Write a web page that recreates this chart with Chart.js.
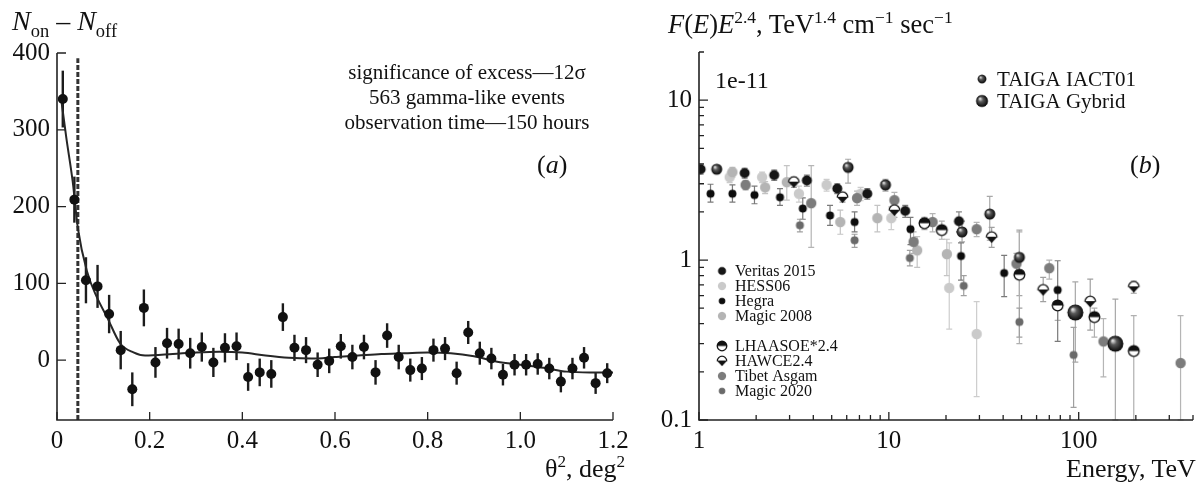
<!DOCTYPE html>
<html>
<head>
<meta charset="utf-8">
<script src="https://cdn.jsdelivr.net/npm/chart.js"></script>
<style>
  html, body { margin: 0; padding: 0; background: #fff; }
  body { width: 1202px; height: 485px; position: relative; overflow: hidden; font-family: "Liberation Serif", serif; color: #111; }
  .box { position: absolute; top: 0; height: 485px; }
  #boxA { left: 0; width: 640px; }
  #boxB { left: 640px; width: 562px; }
  .lbl { position: absolute; white-space: nowrap; line-height: 1; }
  .lbl sub, .lbl sup { font-size: 0.66em; line-height: 0; }
  .note { text-align: center; transform: translateX(-50%); line-height: 25px; font-size: 21px; }
</style>
</head>
<body>
<div class="box" id="boxA"><canvas id="chartA" width="640" height="485"></canvas></div>
<div class="box" id="boxB"><canvas id="chartB" width="562" height="485"></canvas></div>

<div class="lbl" style="left:12px;top:7px;font-size:28px"><i>N</i><sub>on</sub> – <i>N</i><sub>off</sub></div>
<div class="lbl note" style="left:467px;top:60px">significance of excess—12σ<br>563 gamma-like events<br>observation time—150 hours</div>
<div class="lbl" style="left:537px;top:152px;font-size:26px">(<i>a</i>)</div>
<div class="lbl" style="left:545px;top:456px;font-size:26px">θ<sup>2</sup>, deg<sup>2</sup></div>

<div class="lbl" style="left:668px;top:11px;font-size:26.5px"><i>F</i>(<i>E</i>)<i>E</i><sup>2.4</sup>, TeV<sup>1.4</sup> cm<sup>−1</sup> sec<sup>−1</sup></div>
<div class="lbl" style="left:715px;top:68px;font-size:24px">1e-11</div>
<div class="lbl" style="left:1130px;top:152px;font-size:26px">(<i>b</i>)</div>
<div class="lbl" style="left:1066px;top:456px;font-size:26px">Energy, TeV</div>

<script>
// ---- panel (a): theta^2 distribution ----
const thetaSq = [0.0125, 0.0375, 0.0625, 0.0875, 0.1125, 0.1375, 0.1625, 0.1875, 0.2125, 0.2375,
  0.2625, 0.2875, 0.3125, 0.3375, 0.3625, 0.3875, 0.4125, 0.4375, 0.4625, 0.4875,
  0.5125, 0.5375, 0.5625, 0.5875, 0.6125, 0.6375, 0.6625, 0.6875, 0.7125, 0.7375,
  0.7625, 0.7875, 0.8125, 0.8375, 0.8625, 0.8875, 0.9125, 0.9375, 0.9625, 0.9875,
  1.0125, 1.0375, 1.0625, 1.0875, 1.1125, 1.1375, 1.1625, 1.1875];
const excess = [340, 209, 104, 96, 60, 13, -38, 68, -3, 22,
  21, 9, 17, -3, 16, 18, -22, -16, -18, 56,
  16, 13, -6, -1, 18, 4, 17, -16, 32, 4,
  -13, -11, 13, 15, -17, 36, 9, 2, -19, -6,
  -6, -5, -11, -28, -11, 3, -30, -17];
const excessErr = [37, 30, 30, 28, 25, 25, 22, 24, 20, 20,
  20, 20, 19, 19, 19, 18, 18, 18, 18, 18,
  17, 17, 16, 16, 16, 16, 16, 16, 16, 16,
  15, 15, 15, 15, 15, 15, 15, 14, 14, 14,
  14, 14, 14, 14, 14, 14, 14, 13];
const fitX = [0.009, 0.02, 0.034, 0.045, 0.065, 0.086, 0.108, 0.136, 0.165, 0.19, 0.25, 0.3, 0.35, 0.4,
  0.45, 0.5, 0.55, 0.6, 0.65, 0.7, 0.75, 0.8, 0.85, 0.9, 0.95, 1.0, 1.05, 1.1, 1.15, 1.2];
const fitY = [340, 290, 232, 172, 115, 82, 56, 22, 10, 6, 8, 10, 11, 10,
  6, 3, 2, 4, 6, 8, 9, 10, 9, 5, -2, -6, -10, -15, -16, -16];
const cutTheta2 = 0.045;
const cutTop = 393;
const aXTicks = [0, 0.2, 0.4, 0.6, 0.8, 1.0, 1.2];
const aYTicks = [0, 100, 200, 300, 400];
const aYMin = -78, aYMax = 400;

// ---- panel (b): spectrum, F(E)E^2.4 in 1e-11 ----
const seriesNames = ['Veritas 2015', 'HESS06', 'Hegra', 'Magic 2008', 'LHAASOE*2.4', 'HAWCE2.4', 'Tibet Asgam', 'Magic 2020'];
const taigaNames = ['TAIGA IACT01', 'TAIGA Gybrid'];

const veritasE  = [1.02, 1.74, 2.49, 3.7, 5.35, 7.7, 12.2, 23.4];
const veritasF  = [3.7, 3.5, 3.4, 3.15, 2.8, 2.6, 2.03, 1.75];
const veritasLo = [3.45, 3.25, 3.15, 2.9, 2.6, 2.4, 1.85, 1.5];
const veritasHi = [3.95, 3.75, 3.65, 3.4, 3.0, 2.8, 2.2, 2.0];

const hessE  = [1.45, 2.15, 3.36, 4.7, 7.1, 10.3, 20.8, 29];
const hessF  = [3.3, 3.3, 2.6, 2.95, 2.6, 1.83, 0.67, 0.345];
const hessLo = [3.05, 3.05, 2.3, 2.7, 2.35, 1.55, 0.37, 0.14];
const hessHi = [3.55, 3.55, 2.9, 3.2, 2.85, 2.15, 1.28, 0.55];

const hegraE  = [1.15, 1.5, 1.96, 2.67, 3.52, 4.9, 6.6, 13.0, 24.0, 40.5, 77.5];
const hegraF  = [2.6, 2.6, 2.55, 2.47, 2.1, 1.9, 1.73, 1.56, 1.06, 0.83, 0.65];
const hegraLo = [2.3, 2.3, 2.25, 2.2, 1.8, 1.65, 1.5, 1.25, 0.75, 0.59, 0.31];
const hegraHi = [2.98, 2.95, 2.9, 2.8, 2.45, 2.2, 2.0, 1.85, 1.28, 1.07, 0.99];

const magic08E  = [1.5, 2.23, 2.9, 5.55, 8.7, 14.1, 20.2];
const magic08F  = [3.55, 2.85, 3.07, 1.73, 1.83, 1.15, 1.09];
const magic08Lo = [3.3, 2.6, 2.37, 1.45, 1.5, 0.9, 0.8];
const magic08Hi = [3.8, 3.1, 3.9, 2.05, 2.2, 1.4, 1.35];

const lhaasoE  = [15.4, 19, 48.7, 77.5, 121, 195];
const lhaasoF  = [1.7, 1.54, 0.81, 0.52, 0.44, 0.27];
const lhaasoLo = [1.55, 1.35, 0.3, 0.42, 0.33, 0.1];
const lhaasoHi = [1.85, 1.75, 1.5, 0.62, 0.5, 0.45];

const hawcE  = [3.16, 5.7, 10.7, 34.8, 65, 115, 195];
const hawcF  = [3.07, 2.47, 2.05, 1.39, 0.65, 0.55, 0.68];
const hawcLo = [2.85, 2.3, 1.85, 1.2, 0.55, 0.365, 0.62];
const hawcHi = [3.3, 2.65, 2.25, 1.6, 0.78, 0.76, 0.74];

const tibetE  = [1.76, 3.9, 6.8, 10.7, 13.5, 17, 29, 47, 70, 135, 344];
const tibetF  = [2.95, 2.27, 2.44, 2.37, 1.3, 1.73, 1.56, 0.95, 0.89, 0.31, 0.227];
const tibetLo = [2.75, 1.2, 2.2, 2.1, 1.1, 1.5, 1.4, 0.8, 0.76, 0.186, 0.1];
const tibetHi = [3.15, 3.9, 2.7, 2.65, 1.5, 1.95, 1.72, 1.1, 1.0, 0.43, 0.45];

const magic20E  = [3.4, 6.6, 12.9, 24.8, 48.7, 94];
const magic20F  = [1.65, 1.33, 1.03, 0.69, 0.41, 0.255];
const magic20Lo = [1.5, 1.2, 0.92, 0.6, 0.33, 0.12];
const magic20Hi = [1.8, 1.45, 1.15, 0.8, 0.5, 0.38];

const iactE  = [1.24, 6.1, 9.6, 24.3, 34, 48.7];
const iactF  = [3.7, 3.8, 2.95, 1.5, 1.94, 1.04];
const iactLo = [3.5, 3.03, 2.7, 1.3, 1.33, 0.6];
const iactHi = [3.9, 4.27, 3.2, 1.75, 2.5, 1.54];

const gybridE  = [96, 156];
const gybridF  = [0.47, 0.30];
const gybridLo = [0.23, 0.1];
const gybridHi = [0.73, 0.57];

const bXTicks = [1, 10, 100];
const bYTicks = [0.1, 1, 10];
const bXMinor = [2, 3, 4, 5, 6, 7, 8, 9, 20, 30, 40, 50, 60, 70, 80, 90, 200, 300, 400];
const bYMinor = [0.2, 0.3, 0.4, 0.5, 0.6, 0.7, 0.8, 0.9, 2, 3, 4, 5, 6, 7, 8, 9, 20];

// ---------- markers ----------
function makeMarker(r, paint) {
  const s = Math.ceil(r * 2 + 3);
  const c = document.createElement('canvas');
  c.width = s; c.height = s;
  paint(c.getContext('2d'), s / 2, s / 2, r);
  return c;
}
const disc = color => (g, cx, cy, r) => {
  g.fillStyle = color;
  g.beginPath(); g.arc(cx, cy, r, 0, Math.PI * 2); g.fill();
};
function sphere(g, cx, cy, r) {
  const grad = g.createRadialGradient(cx - r * 0.35, cy - r * 0.4, r * 0.08, cx, cy, r);
  grad.addColorStop(0, '#e0e0e0');
  grad.addColorStop(0.35, '#5a5a5a');
  grad.addColorStop(1, '#060606');
  g.fillStyle = grad;
  g.beginPath(); g.arc(cx, cy, r, 0, Math.PI * 2); g.fill();
}
function halfTop(g, cx, cy, r) {
  g.fillStyle = '#fff';
  g.beginPath(); g.arc(cx, cy, r, 0, Math.PI * 2); g.fill();
  g.fillStyle = '#111';
  g.beginPath(); g.arc(cx, cy, r, Math.PI, Math.PI * 2); g.closePath(); g.fill();
  g.strokeStyle = '#111'; g.lineWidth = 1.3;
  g.beginPath(); g.arc(cx, cy, r - 0.5, 0, Math.PI * 2); g.stroke();
}
function hawcMark(g, cx, cy, r) {
  g.fillStyle = '#fff';
  g.beginPath(); g.arc(cx, cy, r, Math.PI, Math.PI * 2); g.closePath(); g.fill();
  g.strokeStyle = '#111'; g.lineWidth = 1.3;
  g.beginPath(); g.arc(cx, cy, r - 0.5, Math.PI, Math.PI * 2); g.stroke();
  g.fillStyle = '#111';
  g.beginPath(); g.moveTo(cx - r, cy - 0.5); g.lineTo(cx + r, cy - 0.5); g.lineTo(cx, cy + r); g.closePath(); g.fill();
}

const mk = {
  veritas: makeMarker(5, disc('#161616')),
  hess: makeMarker(5.2, disc('#cacaca')),
  hegra: makeMarker(4, disc('#0d0d0d')),
  magic08: makeMarker(5.2, disc('#b4b4b4')),
  lhaaso: makeMarker(5.8, halfTop),
  hawc: makeMarker(5.8, hawcMark),
  tibet: makeMarker(5.2, disc('#7c7c7c')),
  magic20: makeMarker(4, disc('#6a6a6a')),
  iact: makeMarker(5.5, sphere),
  gybrid: makeMarker(8, sphere)
};

// ---------- plugins ----------
const errorBars = {
  id: 'errorBars',
  beforeDatasetsDraw(chart) {
    const { ctx, chartArea: a, scales: { x, y } } = chart;
    ctx.save();
    ctx.beginPath(); ctx.rect(a.left, a.top, a.width, a.height + 1); ctx.clip();
    chart.data.datasets.forEach(ds => {
      if (!ds.errLo) return;
      ctx.strokeStyle = ds.errColor; ctx.lineWidth = ds.errWidth;
      ds.data.forEach((p, i) => {
        const lo = ds.errLo[i], hi = ds.errHi[i];
        if (lo === hi) return;
        const px = x.getPixelForValue(p.x);
        const y1 = y.getPixelForValue(lo), y2 = y.getPixelForValue(hi);
        ctx.beginPath();
        ctx.moveTo(px, y1); ctx.lineTo(px, y2);
        if (ds.capWidth) {
          const c = ds.capWidth / 2;
          ctx.moveTo(px - c, y1); ctx.lineTo(px + c, y1);
          ctx.moveTo(px - c, y2); ctx.lineTo(px + c, y2);
        }
        ctx.stroke();
      });
    });
    ctx.restore();
  }
};

function axesPlugin(major, minor) {
  return {
    id: 'axesPlugin',
    afterDatasetsDraw(chart) {
      const { ctx, chartArea: a, scales: { x, y } } = chart;
      ctx.save();
      ctx.strokeStyle = '#222'; ctx.lineWidth = 1.6;
      ctx.beginPath();
      ctx.moveTo(a.left, a.top); ctx.lineTo(a.left, a.bottom); ctx.lineTo(a.right, a.bottom);
      ctx.stroke();
      ctx.lineWidth = 1.3;
      ctx.beginPath();
      major.x.forEach(v => { const p = x.getPixelForValue(v); ctx.moveTo(p, a.bottom); ctx.lineTo(p, a.bottom - 8); });
      major.y.forEach(v => { const p = y.getPixelForValue(v); ctx.moveTo(a.left, p); ctx.lineTo(a.left + 9, p); });
      minor.x.forEach(v => { const p = x.getPixelForValue(v); ctx.moveTo(p, a.bottom); ctx.lineTo(p, a.bottom - 5); });
      minor.y.forEach(v => { const p = y.getPixelForValue(v); ctx.moveTo(a.left, p); ctx.lineTo(a.left + 5, p); });
      ctx.stroke();
      ctx.restore();
    }
  };
}

const legendB = {
  id: 'legendB',
  afterDraw(chart) {
    const ctx = chart.ctx;
    const lowMarks = [mk.veritas, mk.hess, mk.hegra, mk.magic08, mk.lhaaso, mk.hawc, mk.tibet, mk.magic20];
    const lowRows = [271, 286, 301, 316, 346, 361, 376, 391];
    ctx.save();
    ctx.fillStyle = '#111';
    ctx.textBaseline = 'middle';
    ctx.font = '16px "Liberation Serif"';
    seriesNames.forEach((name, i) => {
      const m = lowMarks[i];
      const yy = lowRows[i];
      const s = m === mk.lhaaso || m === mk.hawc ? 0.9 : 0.8;
      ctx.drawImage(m, 82 - m.width * s / 2, yy - m.height * s / 2, m.width * s, m.height * s);
      ctx.fillText(name, 95, yy + 1);
    });
    ctx.font = '21px "Liberation Serif"';
    [mk.iact, mk.gybrid].forEach((m, i) => {
      const yy = [79, 101][i];
      const s = i === 0 ? 0.8 : 0.75;
      ctx.drawImage(m, 342 - m.width * s / 2, yy - m.height * s / 2, m.width * s, m.height * s);
      ctx.fillText(taigaNames[i], 357, yy + 1);
    });
    ctx.restore();
  }
};

const tickFont = { family: 'Liberation Serif', size: 25 };
const pts = (xs, ys) => xs.map((v, i) => ({ x: v, y: ys[i] }));
const common = {
  responsive: false,
  animation: false,
  events: [],
  plugins: { legend: { display: false }, tooltip: { enabled: false } }
};

// ---------- chart (a) ----------
new Chart(document.getElementById('chartA'), {
  type: 'scatter',
  data: {
    datasets: [
      {
        data: pts(thetaSq, excess),
        errLo: excess.map((v, i) => v - excessErr[i]),
        errHi: excess.map((v, i) => v + excessErr[i]),
        errColor: '#1c1c1c', errWidth: 2.4, capWidth: 0,
        pointRadius: 5, pointBackgroundColor: '#111', pointBorderWidth: 0
      },
      {
        data: pts(fitX, fitY),
        showLine: true, borderColor: '#262626', borderWidth: 2,
        pointRadius: 0, tension: 0.4, cubicInterpolationMode: 'monotone'
      },
      {
        data: [{ x: cutTheta2, y: aYMin }, { x: cutTheta2, y: cutTop }],
        showLine: true, borderColor: '#333', borderWidth: 3, borderDash: [5, 2],
        pointRadius: 0
      }
    ]
  },
  options: {
    ...common,
    layout: { padding: { left: 0, top: 53, right: 27, bottom: 25 } },
    scales: {
      x: {
        type: 'linear', min: 0, max: 1.2,
        afterBuildTicks: s => { s.ticks = aXTicks.map(v => ({ value: v })); },
        afterFit: s => { s.height = 40; },
        ticks: { callback: v => v === 0 ? '0' : v.toFixed(1), font: tickFont, color: '#111', padding: 6, maxRotation: 0, autoSkip: false },
        grid: { display: false, drawTicks: false }, border: { display: false }
      },
      y: {
        type: 'linear', min: aYMin, max: aYMax,
        afterBuildTicks: s => { s.ticks = aYTicks.map(v => ({ value: v })); },
        afterFit: s => { s.width = 57; },
        ticks: { callback: v => String(v), font: tickFont, color: '#111', padding: 7, autoSkip: false },
        grid: { display: false, drawTicks: false }, border: { display: false }
      }
    }
  },
  plugins: [errorBars, axesPlugin({ x: aXTicks, y: aYTicks }, { x: [], y: [] })]
});

// ---------- chart (b) ----------
function series(E, F, lo, hi, marker, r, errColor) {
  return {
    data: pts(E, F), errLo: lo, errHi: hi, errColor, errWidth: 1.2, capWidth: 6,
    pointStyle: marker, pointRadius: r
  };
}

new Chart(document.getElementById('chartB'), {
  type: 'scatter',
  data: {
    datasets: [
      series(gybridE, gybridF, gybridLo, gybridHi, mk.gybrid, 8, '#a8a8a8'),
      series(iactE, iactF, iactLo, iactHi, mk.iact, 5.5, '#a8a8a8'),
      series(lhaasoE, lhaasoF, lhaasoLo, lhaasoHi, mk.lhaaso, 5.8, '#b0b0b0'),
      series(hawcE, hawcF, hawcLo, hawcHi, mk.hawc, 5.8, '#a0a0a0'),
      series(veritasE, veritasF, veritasLo, veritasHi, mk.veritas, 5, '#888'),
      series(hegraE, hegraF, hegraLo, hegraHi, mk.hegra, 4, '#7a7a7a'),
      series(magic20E, magic20F, magic20Lo, magic20Hi, mk.magic20, 4, '#a0a0a0'),
      series(tibetE, tibetF, tibetLo, tibetHi, mk.tibet, 5.2, '#b5b5b5'),
      series(magic08E, magic08F, magic08Lo, magic08Hi, mk.magic08, 5.2, '#c4c4c4'),
      series(hessE, hessF, hessLo, hessHi, mk.hess, 5.2, '#cdcdcd')
    ]
  },
  options: {
    ...common,
    layout: { padding: { left: 0, top: 52, right: 4, bottom: 25 } },
    scales: {
      x: {
        type: 'logarithmic', min: 1, max: 400,
        afterBuildTicks: s => { s.ticks = bXTicks.map(v => ({ value: v })); },
        afterFit: s => { s.height = 40; },
        ticks: { callback: v => String(v), font: tickFont, color: '#111', padding: 6, maxRotation: 0, autoSkip: false },
        grid: { display: false, drawTicks: false }, border: { display: false }
      },
      y: {
        type: 'logarithmic', min: 0.1, max: 20,
        afterBuildTicks: s => { s.ticks = bYTicks.map(v => ({ value: v })); },
        afterFit: s => { s.width = 59; },
        ticks: { callback: v => String(v), font: tickFont, color: '#111', padding: 7, autoSkip: false },
        grid: { display: false, drawTicks: false }, border: { display: false }
      }
    }
  },
  plugins: [errorBars, axesPlugin({ x: bXTicks, y: bYTicks }, { x: bXMinor, y: bYMinor }), legendB]
});
</script>
</body>
</html>
